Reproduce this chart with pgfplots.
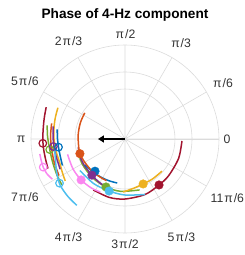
\documentclass[border=0pt]{standalone}
\usepackage{pgfplots}
\pgfplotsset{compat=1.18}
\usepgfplotslibrary{polar}
\usetikzlibrary{arrows.meta}
\usepackage{fontspec}
\setmainfont{Liberation Sans}
\definecolor{cred}{RGB}{162,20,47}
\definecolor{corange}{RGB}{217,83,25}
\definecolor{cyellow}{RGB}{237,177,32}
\definecolor{cpurple}{RGB}{126,47,142}
\definecolor{cgreen}{RGB}{119,172,48}
\definecolor{clblue}{RGB}{77,190,238}
\definecolor{cblue}{RGB}{0,114,189}
\definecolor{cpink}{RGB}{250,135,240}
\newcommand{\p}{\kern1pt π\kern1pt}
\begin{document}
\begin{tikzpicture}
\begin{polaraxis}[
  scale only axis, width=188bp, height=188bp,
  ymin=0, ymax=94,
  xtick={0,30,...,330},
  xticklabels={0,\p/6,\p/3,\p/2,2\p/3,5\p/6,\p,7\p/6,4\p/3,3\p/2,5\p/3,11\p/6},
  ytick={50,67}, yticklabels={},
  xmajorgrids, ymajorgrids,
  major grid style={black!14, line width=0.6bp},
  axis line style={black!14, line width=0.6bp},
  major tick length=0pt,
  xticklabel style={font=\fontsize{12.3}{14}\selectfont, text=black!80, inner xsep=4.5bp, inner ysep=6.5bp},
  title={Phase of 4-Hz component},
  title style={font=\bfseries\fontsize{13.7}{15}\selectfont, at={(0.5,1)}, anchor=center, yshift=16bp},
  cv/.style={line width=1.5bp, smooth, no markers},
  om/.style={only marks, mark=o, mark size=3.8bp, line width=1.2bp, fill=none},
  fm/.style={only marks, mark=*, mark size=4.3bp},
]
% outer curves (open markers)
\addplot[cv, cred] coordinates {(158,85) (165,83.5) (172,82.5) (180,82.2) (187,82) (195,82) (201,82.5)};
\addplot[cv, cpink] coordinates {(190,86.5) (195,86.5) (199,86.5) (204,85.5) (209,83)};
\addplot[cv, cgreen] coordinates {(170,79) (178,77.5) (188,76) (198,76) (208,77) (216,78)};
\addplot[cv, corange] coordinates {(168,75) (178,74.5) (188,74) (198,74.5) (209,75.5)};
\addplot[cv, cyellow] coordinates {(155,74) (162,73) (170,72) (180,71) (190,70) (200,69.5) (208,71) (215,73)};
\addplot[cv, cpurple] coordinates {(170,73) (178,72) (187,71.5) (196,71) (205,71.5)};
\addplot[cv, cblue] coordinates {(172,68.5) (180,67.5) (187,67) (195,67) (203,68)};
\addplot[cv, clblue] coordinates {(188,71) (198,73) (206,76) (215,79.5) (225,81) (234,82)};
% inner curves (filled markers)
\addplot[cv, cred] coordinates {(238,60) (255,60.5) (270,60) (290,59) (306.5,57.2) (320,57) (340,57) (358,57)};
\addplot[cv, cpink] coordinates {(195,59.5) (210,60) (223,60) (235,59.5) (245,58.5)};
\addplot[cv, clblue] coordinates {(215,55) (235,54.5) (253,54.4) (270,56) (290,59)};
\addplot[cv, cgreen] coordinates {(193,48.5) (210,49.5) (230,50.5) (248,51.6) (265,52.5) (286,53)};
\addplot[cv, cpurple] coordinates {(190,47.5) (200,48) (212,48.5) (227.5,49) (240,50.5) (250,52)};
\addplot[cv, cyellow] coordinates {(268,53) (280,50) (292,48.5) (305,48.5) (319,49)};
\addplot[cv, cblue] coordinates {(213,47.7) (227,46) (240,45) (250,44.7) (260,44.7)};
\addplot[cv, corange] coordinates {(147,48) (160,47.5) (175,47) (190,47) (198,47.4) (210,46.5) (225,46) (240,45.5) (246,45.5)};
% open markers
\addplot[om, cred] coordinates {(183,82.3)};
\addplot[om, cpink] coordinates {(199,86.5)};
\addplot[om, cgreen] coordinates {(188,76)};
\addplot[om, cpurple] coordinates {(186,72)};
\addplot[om, cblue] coordinates {(187,67)};
\addplot[om, clblue] coordinates {(214,79)};
% filled markers
\addplot[fm, corange] coordinates {(198,47.4)};
\addplot[fm, cblue] coordinates {(227,44)};
\addplot[fm, cpurple] coordinates {(227.5,49)};
\addplot[fm, cpink] coordinates {(223,60)};
\addplot[fm, cgreen] coordinates {(248.4,51.6)};
\addplot[fm, clblue] coordinates {(253,54.4)};
\addplot[fm, cyellow] coordinates {(292,48.5)};
\addplot[fm, cred] coordinates {(306.5,57.2)};
% mean vector
\addplot[black, line width=1.6bp, -{Triangle[length=6bp,width=7bp]}] coordinates {(0,0) (180,27)};
\coordinate (c) at (axis cs:0,0);
\end{polaraxis}
\pgfresetboundingbox
\path[use as bounding box] ([shift={(-125bp,-116bp)}]c) rectangle ([shift={(120bp,139bp)}]c);
\end{tikzpicture}
\end{document}
